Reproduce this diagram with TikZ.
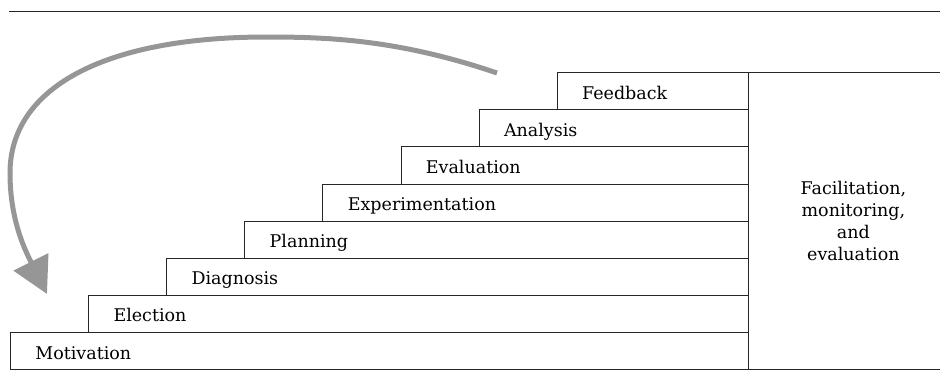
\documentclass[tikz,border=0pt]{standalone}
\usepackage{fontspec}
\setmainfont{DejaVu Serif}
\usepackage{tikz}
\usetikzlibrary{arrows.meta}
\definecolor{loopgray}{RGB}{150,150,150}
\tikzstyle{Step}=[rectangle, draw=black!85, line width=0.8pt, fill=white, anchor=south west, minimum height=37.14pt, inner xsep=25pt, inner ysep=0pt, text height=16pt, text depth=0pt, align=left, font=\fontsize{17.5}{22}\selectfont]
\tikzstyle{Side}=[rectangle, draw=black!85, line width=0.8pt, anchor=south west, minimum width=210pt, minimum height=297.1pt, align=center, font=\fontsize{17.5}{22}\selectfont]
\tikzstyle{Loop}=[loopgray, line width=5pt, -{Triangle[length=36pt, width=38pt]}]

\begin{document}
\begin{tikzpicture}[x=1pt, y=1pt]
    \useasboundingbox (0,0) rectangle (940,384);

    \coordinate (ruleL) at (9,373);
    \coordinate (ruleR) at (940,373);
    \draw[black!85, line width=0.8pt] (ruleL) -- (ruleR);

    \foreach \name [count=\i from 0] in {Motivation,Election,Diagnosis,Planning,Experimentation,Evaluation,Analysis,Feedback}{
        \pgfmathsetmacro{\stepx}{10+78.1*\i}
        \pgfmathsetmacro{\stepy}{14+37.14*\i}
        \pgfmathsetmacro{\stepw}{688-78.1*\i}
        \node[Step, text width=\stepw pt] (step\i) at (\stepx,\stepy) {\name};
    }

    \path (748,14) node[Side] (fme) {Facilitation,\\monitoring,\\and\\evaluation};

    \coordinate (loopstart) at (497,311);
    \coordinate (loopend) at (47,90);
    \draw[Loop] (loopstart) .. controls (400,344) and (330,347) .. (267,347)
        .. controls (100,347) and (10,294) .. (10,211)
        .. controls (10,164) and (25,134) .. (loopend);
\end{tikzpicture}
\end{document}
